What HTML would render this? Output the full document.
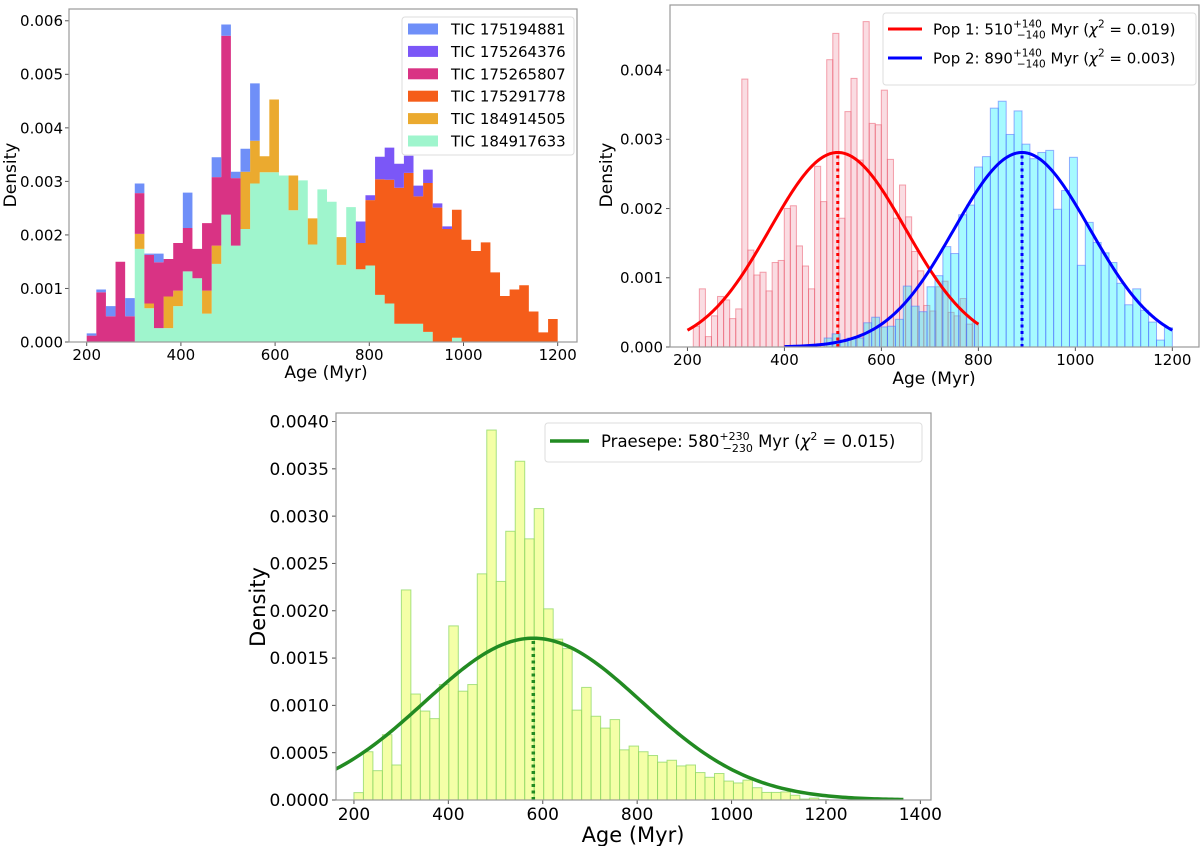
<!DOCTYPE html>
<html><head><meta charset="utf-8"><style>
html,body{margin:0;padding:0;background:#fff;}
svg{display:block;font-family:"DejaVu Sans","Liberation Sans",sans-serif;}
</style></head><body>
<svg id="fig" width="1200" height="846" viewBox="0 0 1200 846" xmlns="http://www.w3.org/2000/svg"></svg>
<script>
// ---------- Panel 1 data (density x 1e-4), 49 bins 200-1200 ----------
const p1Scale = 1e-4;
const p1Names = ["TIC 175194881","TIC 175264376","TIC 175265807","TIC 175291778","TIC 184914505","TIC 184917633"];
const p1Mint = [0,0,0,0,0,17.4,6.3,2.6,2.6,6.7,13.2,11.9,5.3,14.6,23.8,18.0,21.1,29.6,31.7,31.7,31.1,24.6,30.2,18.2,28.5,26.2,14.4,25.2,13.6,14.3,8.8,7.2,3.4,3.4,3.4,1.9,0,0,0.8,0,0,0,0,0,0,0,0,0,0];
const p1Gold = [0,0,0,0,0,2.8,0.9,0,5.9,2.9,0,0,4.3,3.4,0,0,10.7,8.0,3.0,13.6,0,6.5,0,4.9,0,0,5.2,0,0,0,0,0,0,0,0,0,0,0,0,0,0,0,0,0,0,0,0,0,0];
const p1Orange = [0,0,0,0,0,0,0,0,0,0,0,0,0,0,0,0,0,0,0,0,0,0,0,0,0,0,0,0,4.9,12.2,21.6,23.1,25.4,28.2,23.8,27.8,25.1,21.1,23.9,19.1,17.0,18.6,13.0,8.6,9.8,10.6,5.7,1.8,4.3];
const p1Magenta = [1.2,9.3,4.8,15.0,4.8,7.6,9.1,12.3,7.0,8.9,8.1,5.5,12.6,12.8,33.4,12.6,0,0,0,0,0,0,0,0,0,0,0,0,0,0,0,0,0,0,0,0,0,0,0,0,0,0,0,0,0,0,0,0,0];
const p1Purple = [0,0,0,0,0,0,0,0,0,0,0,0,0,0,0,0,0,0,0,0,0,0,0,0,0,0,0,0,4.0,0.9,4.2,6.0,4.5,3.2,2.0,2.5,0.8,0.5,0,0,0,0,0,0,0,0,0,0,0];
const p1Blue = [0.4,0.5,1.9,0,3.4,1.8,0.2,1.6,0,0,6.6,0,0,3.7,2.1,1.2,4.3,10.7,0,0,0,0,0,0,0,0,0,0,0,0,0,0,0,0,0,0,0,0,0,0,0,0,0,0,0,0,0,0,0];
const p1XTicks = [200,400,600,800,1000,1200];
const p1YTicks = [0,0.001,0.002,0.003,0.004,0.005,0.006];
const p1YLabels = ["0.000","0.001","0.002","0.003","0.004","0.005","0.006"];
// ---------- Panel 2 data (density x 1e-3) ----------
const p2Scale = 1e-3;
const p2RedRange = [212,800];
const p2Red = [0.30,0.84,0.15,0.45,0.73,0.68,0.41,0.55,3.87,1.40,1.04,1.08,0.81,1.22,1.25,2.00,2.04,1.46,1.17,0.84,2.61,2.10,4.15,4.53,1.86,3.40,3.88,2.70,4.70,3.23,3.21,3.71,2.71,1.86,2.34,1.88,1.38,1.10,0.60,0.52,0.87,0.95,0.50,0.45,0.70,0.33,0.35];
const p2BlueRange = [482,1200];
const p2Blue = [0.13,0.19,0.10,0.13,0.13,0.35,0.43,0.29,0.30,0.40,0.88,0.59,0.51,0.87,1.03,1.45,1.35,1.91,2.05,2.60,2.75,3.45,3.55,3.07,3.41,2.93,2.72,2.81,2.84,1.99,2.26,2.74,1.18,1.80,1.51,1.36,1.22,0.92,0.61,0.84,0.53,0.36,0.10,0.28];
const p2Fit1 = [510,140,0.00281,200,800];   // mu, sigma, peak, xstart, xend
const p2Fit2 = [890,140,0.00281,400,1200];
const p2XTicks = [200,400,600,800,1000,1200];
const p2YTicks = [0,0.001,0.002,0.003,0.004];
const p2YLabels = ["0.000","0.001","0.002","0.003","0.004"];
// ---------- Panel 3 data (density x 1e-3), 50 bins ----------
const p3Scale = 1e-3;
const p3Range = [200,1205];
const p3Vals = [0.078,0.51,0.31,0.69,0.37,2.22,1.12,0.94,0.86,1.22,1.84,1.15,1.22,2.39,3.91,2.31,2.84,3.58,2.76,3.08,2.02,1.70,1.60,0.95,1.19,0.885,0.76,0.85,0.53,0.57,0.51,0.47,0.40,0.42,0.36,0.37,0.29,0.24,0.28,0.20,0.18,0.21,0.13,0.08,0.08,0.085,0.05,0.01,0.02,0.005];
const p3Fit = [580,230,0.00171,140,1364];
const p3XTicks = [200,400,600,800,1000,1200,1400];
const p3YTicks = [0,0.0005,0.001,0.0015,0.002,0.0025,0.003,0.0035,0.004];
const p3YLabels = ["0.0000","0.0005","0.0010","0.0015","0.0020","0.0025","0.0030","0.0035","0.0040"];

const NS = "http://www.w3.org/2000/svg";
const fig = document.getElementById('fig');
function mk(tag, attrs, parent, text){
  const e = document.createElementNS(NS, tag);
  for (const k in attrs) e.setAttribute(k, attrs[k]);
  if (text !== undefined) e.textContent = text;
  (parent || fig).appendChild(e);
  return e;
}
function axes(box, xlim, ylim){
  return {
    x: v => box.l + (v - xlim[0]) / (xlim[1] - xlim[0]) * (box.r - box.l),
    y: v => box.b - (v - ylim[0]) / (ylim[1] - ylim[0]) * (box.b - box.t)
  };
}
function drawFrame(g, box, ax, xt, yt, yl, fs, xLabY, yLabX, lfs, labXY, labYY, labYX){
  const clip = mk('clipPath', {id: g.id + '-clip'}, g);
  mk('rect', {x: box.l, y: box.t, width: box.r - box.l, height: box.b - box.t}, clip);
  const ticks = mk('g', {}, g);
  
  
  xt.forEach(v => {
    const x = ax.x(v);
    mk('line', {x1: x, x2: x, y1: box.b, y2: box.b + 4, stroke: '#555', 'stroke-width': 1}, ticks);
    const t = mk('text', {x: x, y: xLabY, 'font-size': fs, 'text-anchor': 'middle', fill: '#000'}, ticks, String(v));
    
    
  });
  const yticks = mk('g', {}, g);
  
  
  yt.forEach((v, i) => {
    const y = ax.y(v);
    mk('line', {x1: box.l - 4, x2: box.l, y1: y, y2: y, stroke: '#555', 'stroke-width': 1}, yticks);
    const t = mk('text', {x: yLabX, y: y + fs * 0.36, 'font-size': fs, 'text-anchor': 'end', fill: '#000'}, yticks, yl[i]);
    
    
  });
  const xl = mk('text', {x: labXY, y: labYY, 'font-size': lfs, 'text-anchor': 'middle'}, g, 'Age (Myr)');
  
  
  const ylab = mk('text', {x: 0, y: 0, 'font-size': lfs, 'text-anchor': 'middle', transform: 'translate(' + labYX[0] + ',' + labYX[1] + ') rotate(-90)'}, g, 'Density');
  
  
}
function spines(g, box){
  const s = mk('rect', {x: box.l, y: box.t, width: box.r - box.l, height: box.b - box.t, fill: 'none', stroke: '#999', 'stroke-width': 1.2}, g);
  
  
}
function bars(g, ax, vals, scale, range, fill, stroke, name){
  const w = (range[1] - range[0]) / vals.length;
  const bg = mk('g', {'clip-path': 'url(#' + g.id + '-clip)'}, g);
  
  
  vals.forEach((v, i) => {
    const x0 = ax.x(range[0] + i * w), x1 = ax.x(range[0] + (i + 1) * w);
    const y0 = ax.y(0), y1 = ax.y(v * scale);
    const r = mk('rect', {x: x0, y: y1, width: x1 - x0, height: Math.max(0, y0 - y1), fill: fill, stroke: stroke, 'stroke-width': 1}, bg);
    
    
  });
}
function gauss(g, ax, fit, color, width, name){
  const [mu, sig, pk, a, b] = fit;
  let d = '';
  for (let i = 0; i <= 200; i++) {
    const x = a + (b - a) * i / 200;
    const y = pk * Math.exp(-0.5 * ((x - mu) / sig) ** 2);
    d += (i ? 'L' : 'M') + ax.x(x).toFixed(2) + ',' + ax.y(y).toFixed(2);
  }
  const p = mk('path', {d: d, fill: 'none', stroke: color, 'stroke-width': width, 'clip-path': 'url(#' + g.id + '-clip)'}, g);
  
  
  const l = mk('line', {x1: ax.x(mu), x2: ax.x(mu), y1: ax.y(0), y2: ax.y(pk), stroke: color, 'stroke-width': width, 'stroke-dasharray': '3,3.5'}, g);
  
  
}

// ================= Panel 1 =================
(function(){
  const g = mk('g', {id: 'p1'});
  
  
  const box = {l: 69, r: 577, t: 9, b: 342};
  const ax = axes(box, [162.4, 1241], [0, 0.00622]);
  drawFrame(g, box, ax, p1XTicks, p1YTicks, p1YLabels, 15, 360, 63, 17, 326, 378, [16, 175]);
  const layers = [[p1Mint,'#9ff5cd'],[p1Gold,'#ebaa2f'],[p1Orange,'#f55d1a'],[p1Magenta,'#d93384'],[p1Purple,'#7b57f7'],[p1Blue,'#6f8ff8']];
  const n = p1Mint.length, w = 1000 / n;
  const cum = new Array(n).fill(0);
  const lg = mk('g', {'clip-path': 'url(#p1-clip)'}, g);
  
  
  const polys = [];
  layers.forEach(([vals, col], k) => {
    let top = '', bot = '';
    const lo = cum.slice();
    for (let i = 0; i < n; i++) cum[i] += vals[i] * p1Scale;
    for (let i = 0; i < n; i++) {
      const xa = ax.x(200 + i * w).toFixed(2), xb = ax.x(200 + (i + 1) * w).toFixed(2);
      top += (i ? 'L' : 'M') + xa + ',' + ax.y(cum[i]).toFixed(2) + 'L' + xb + ',' + ax.y(cum[i]).toFixed(2);
    }
    for (let i = n - 1; i >= 0; i--) {
      const xa = ax.x(200 + i * w).toFixed(2), xb = ax.x(200 + (i + 1) * w).toFixed(2);
      bot += 'L' + xb + ',' + ax.y(lo[i]).toFixed(2) + 'L' + xa + ',' + ax.y(lo[i]).toFixed(2);
    }
    polys.push([top + bot + 'Z', col]);
  });
  const lnames = ['layer-tic-184917633','layer-tic-184914505','layer-tic-175291778','layer-tic-175265807','layer-tic-175264376','layer-tic-175194881'];
  polys.forEach(([d, col], k) => {
    const p = mk('path', {d: d, fill: col, stroke: 'none'}, lg);
    
    
  });
  spines(g, box);
  const leg = mk('g', {}, g);
  
  
  mk('rect', {x: 402, y: 17, width: 172, height: 138, rx: 3, fill: '#fff', 'fill-opacity': 0.85, stroke: '#ddd'}, leg);
  const cols = ['#6f8ff8','#7b57f7','#d93384','#f55d1a','#ebaa2f','#9ff5cd'];
  p1Names.forEach((nm, i) => {
    const y = 29 + i * 22.4;
    const sw = mk('rect', {x: 408, y: y - 5.5, width: 30, height: 11, fill: cols[i]}, leg);
    
    
    const t = mk('text', {x: 451, y: y + 5.5, 'font-size': 15}, leg, nm);
    
    
  });
})();

// ================= Panel 2 =================
(function(){
  const g = mk('g', {id: 'p2'});
  
  
  const box = {l: 670, r: 1199, t: 5, b: 347};
  const ax = axes(box, [164, 1255], [0, 0.00494]);
  drawFrame(g, box, ax, p2XTicks, p2YTicks, p2YLabels, 15, 365, 663, 17, 934, 384, [612, 175]);
  bars(g, ax, p2Red, p2Scale, p2RedRange, 'rgba(240,140,160,0.3)', 'rgba(235,90,110,0.55)', 'pop1-bars');
  bars(g, ax, p2Blue, p2Scale, p2BlueRange, 'rgba(0,240,255,0.35)', 'rgba(80,110,255,0.55)', 'pop2-bars');
  gauss(g, ax, p2Fit1, '#ff0000', 3, 'pop1-fit-curve');
  gauss(g, ax, p2Fit2, '#0000ff', 3, 'pop2-fit-curve');
  spines(g, box);
  const leg = mk('g', {}, g);
  
  
  mk('rect', {x: 883, y: 13, width: 313, height: 72, rx: 3, fill: '#fff', 'fill-opacity': 0.85, stroke: '#ddd'}, leg);
  const ents = [['#ff0000','1','510','0.019'],['#0000ff','2','890','0.003']];
  ents.forEach(([c, k, m, chi], i) => {
    const y = 29 + i * 29;
    mk('line', {x1: 888, x2: 922, y1: y, y2: y, stroke: c, 'stroke-width': 3}, leg);
    const t = mk('text', {x: 933, y: y + 5.5, 'font-size': 15}, leg);
    
    
    mk('tspan', {}, t, 'Pop ' + k + ': ' + m);
    mk('tspan', {'font-size': 10.5, dy: -7}, t, '+140');
    mk('tspan', {'font-size': 10.5, dx: -25, dy: 11}, t, '\u2212140');
    mk('tspan', {dy: -4}, t, ' Myr (');
    mk('tspan', {'font-style': 'italic'}, t, '\u03c7');
    mk('tspan', {'font-size': 10.5, dy: -7}, t, '2');
    mk('tspan', {dy: 7}, t, ' = ' + chi + ')');
  });
})();

// ================= Panel 3 =================
(function(){
  const g = mk('g', {id: 'p3'});
  
  
  const box = {l: 336, r: 931, t: 413, b: 800};
  const ax = axes(box, [162, 1422.5], [0, 0.00409]);
  drawFrame(g, box, ax, p3XTicks, p3YTicks, p3YLabels, 17, 820, 329, 21, 633, 842, [265, 607]);
  bars(g, ax, p3Vals, p3Scale, p3Range, 'rgba(238,255,120,0.65)', 'rgba(140,215,100,0.75)', 'praesepe-bars');
  gauss(g, ax, p3Fit, '#228b22', 3.5, 'praesepe-fit-curve');
  spines(g, box);
  const leg = mk('g', {}, g);
  
  
  mk('rect', {x: 545, y: 423, width: 377, height: 39, rx: 3, fill: '#fff', 'fill-opacity': 0.85, stroke: '#ddd'}, leg);
  mk('line', {x1: 550, x2: 589, y1: 441, y2: 441, stroke: '#228b22', 'stroke-width': 3.5}, leg);
  const t = mk('text', {x: 601, y: 447, 'font-size': 16.5}, leg);
  
  
  mk('tspan', {}, t, 'Praesepe: 580');
  mk('tspan', {'font-size': 11, dy: -7}, t, '+230');
  mk('tspan', {'font-size': 11, dx: -27, dy: 12}, t, '\u2212230');
  mk('tspan', {dy: -5}, t, ' Myr (');
  mk('tspan', {'font-style': 'italic'}, t, '\u03c7');
  mk('tspan', {'font-size': 11, dy: -7}, t, '2');
  mk('tspan', {dy: 7}, t, ' = 0.015)');
})();
</script>
</body></html>
